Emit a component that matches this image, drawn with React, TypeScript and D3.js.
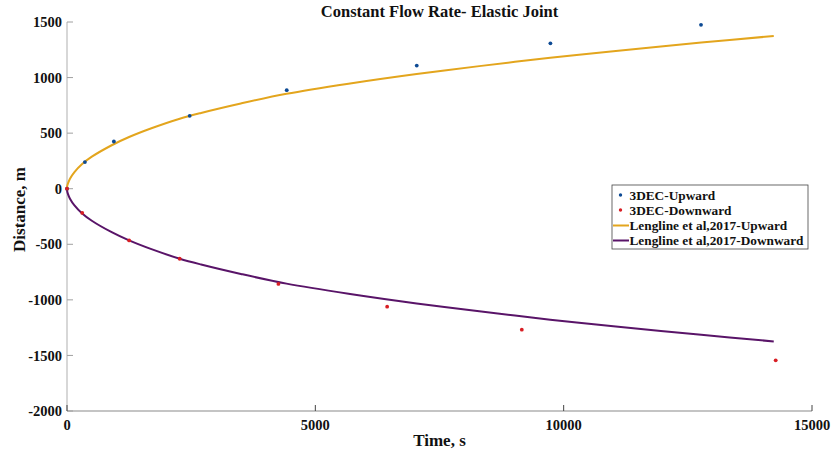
import React from "react";
import * as d3 from "d3";

const xTicks = [0, 5000, 10000, 15000];
const yTicks = [-2000, -1500, -1000, -500, 0, 500, 1000, 1500];

const upTime = [0, 361, 944, 2470, 4424, 7042, 9733, 12765];
const upDist = [0, 240, 425, 656, 887, 1108, 1308, 1475];

const downTime = [0, 307, 1251, 2269, 4257, 6446, 9157, 14269];
const downDist = [0, -218, -465, -630, -857, -1061, -1268, -1544];

const curveTime = [0, 5, 20, 60, 150, 300, 500, 900, 1250, 1700, 2270, 2700, 3500, 4420, 5700, 7040, 8300, 9730, 11000, 12770, 14230];
const curveUp = [0, 25, 48, 90, 150, 220, 288, 391, 465, 544, 630, 682, 767, 854, 947, 1032, 1103, 1178, 1237, 1315, 1374];
const curveDown = [0, -25, -48, -90, -150, -220, -288, -391, -465, -544, -630, -682, -767, -854, -947, -1032, -1103, -1178, -1237, -1315, -1374];

const legendLabels = ["3DEC-Upward", "3DEC-Downward", "Lengline et al,2017-Upward", "Lengline et al,2017-Downward"];

const BLUE = "#0d4a94";
const RED = "#d81e24";
const ORANGE = "#e3a51d";
const PURPLE = "#591468";
const FONT = "'Liberation Serif', 'Times New Roman', serif";

export default function App() {
  const W = 833, H = 455;
  const x = d3.scaleLinear().domain([0, 15000]).range([67, 812]);
  const y = d3.scaleLinear().domain([-2000, 1500]).range([411, 22]);

  const line = d3
    .line<number>()
    .x((_, i) => x(curveTime[i]))
    .curve(d3.curveCatmullRom.alpha(0.5));
  const upPath = line.y((d) => y(d))(curveUp) || "";
  const downPath = line.y((d) => y(d))(curveDown) || "";

  const lx = 612, ly = 185, lw = 196, lh = 64;
  const rowY = [195, 210, 225.5, 240.5];

  return (
    <svg width={W} height={H} style={{ position: "absolute", left: 0, top: 0, background: "#fff" }} fontFamily={FONT}>
      {/* axes */}
      <line x1={x(0)} x2={x(0)} y1={y(1500)} y2={y(-2000)} stroke="#bdbdbd" strokeWidth={1.2} />
      <line x1={x(0)} x2={x(15000)} y1={y(-2000)} y2={y(-2000)} stroke="#8a8a8a" strokeWidth={1.2} />
      {yTicks.map((t) => (
        <g key={"y" + t}>
          <line x1={x(0)} x2={x(0) + 6} y1={y(t)} y2={y(t)} stroke="#a0a0a0" strokeWidth={1} />
          <text x={62} y={y(t)} dy="0.35em" textAnchor="end" fontSize={14.5} fontWeight="bold" fill="#111">
            {t}
          </text>
        </g>
      ))}
      {xTicks.map((t) => (
        <g key={"x" + t}>
          <line x1={x(t)} x2={x(t)} y1={y(-2000)} y2={y(-2000) - 6} stroke="#444" strokeWidth={1} />
          <text x={x(t)} y={430} textAnchor="middle" fontSize={14.5} fontWeight="bold" fill="#111">
            {t}
          </text>
        </g>
      ))}
      <text x={(x(0) + x(15000)) / 2} y={446} textAnchor="middle" fontSize={17} fontWeight="bold" fill="#111">
        Time, s
      </text>
      <text
        transform={`translate(25,${(y(1500) + y(-2000)) / 2 - 7}) rotate(-90)`}
        textAnchor="middle"
        fontSize={17}
        fontWeight="bold"
        fill="#111"
      >
        Distance, m
      </text>
      <text x={(x(0) + x(15000)) / 2} y={17} textAnchor="middle" fontSize={16.5} fontWeight="bold" fill="#111">
        Constant Flow Rate- Elastic Joint
      </text>

      {/* curves */}
      <path d={upPath} fill="none" stroke={ORANGE} strokeWidth={2} />
      <path d={downPath} fill="none" stroke={PURPLE} strokeWidth={2} />

      {/* points */}
      {upTime.map((t, i) => (
        <circle key={"u" + i} cx={x(t)} cy={y(upDist[i])} r={1.9} fill={BLUE} />
      ))}
      {downTime.map((t, i) => (
        <circle key={"d" + i} cx={x(t)} cy={y(downDist[i])} r={1.9} fill={RED} />
      ))}

      {/* legend */}
      <rect x={lx} y={ly} width={lw} height={lh} fill="#fff" stroke="#444" strokeWidth={0.8} />
      {legendLabels.map((lab, i) => (
        <g key={lab}>
          {i < 2 ? (
            <circle cx={620.5} cy={rowY[i]} r={1.7} fill={i === 0 ? BLUE : RED} />
          ) : (
            <line x1={613} x2={629} y1={rowY[i]} y2={rowY[i]} stroke={i === 2 ? ORANGE : PURPLE} strokeWidth={2} />
          )}
          <text x={629.5} y={rowY[i]} dy="0.35em" fontSize={13.3} fontWeight="bold" fill="#111">
            {lab}
          </text>
        </g>
      ))}
    </svg>
  );
}
